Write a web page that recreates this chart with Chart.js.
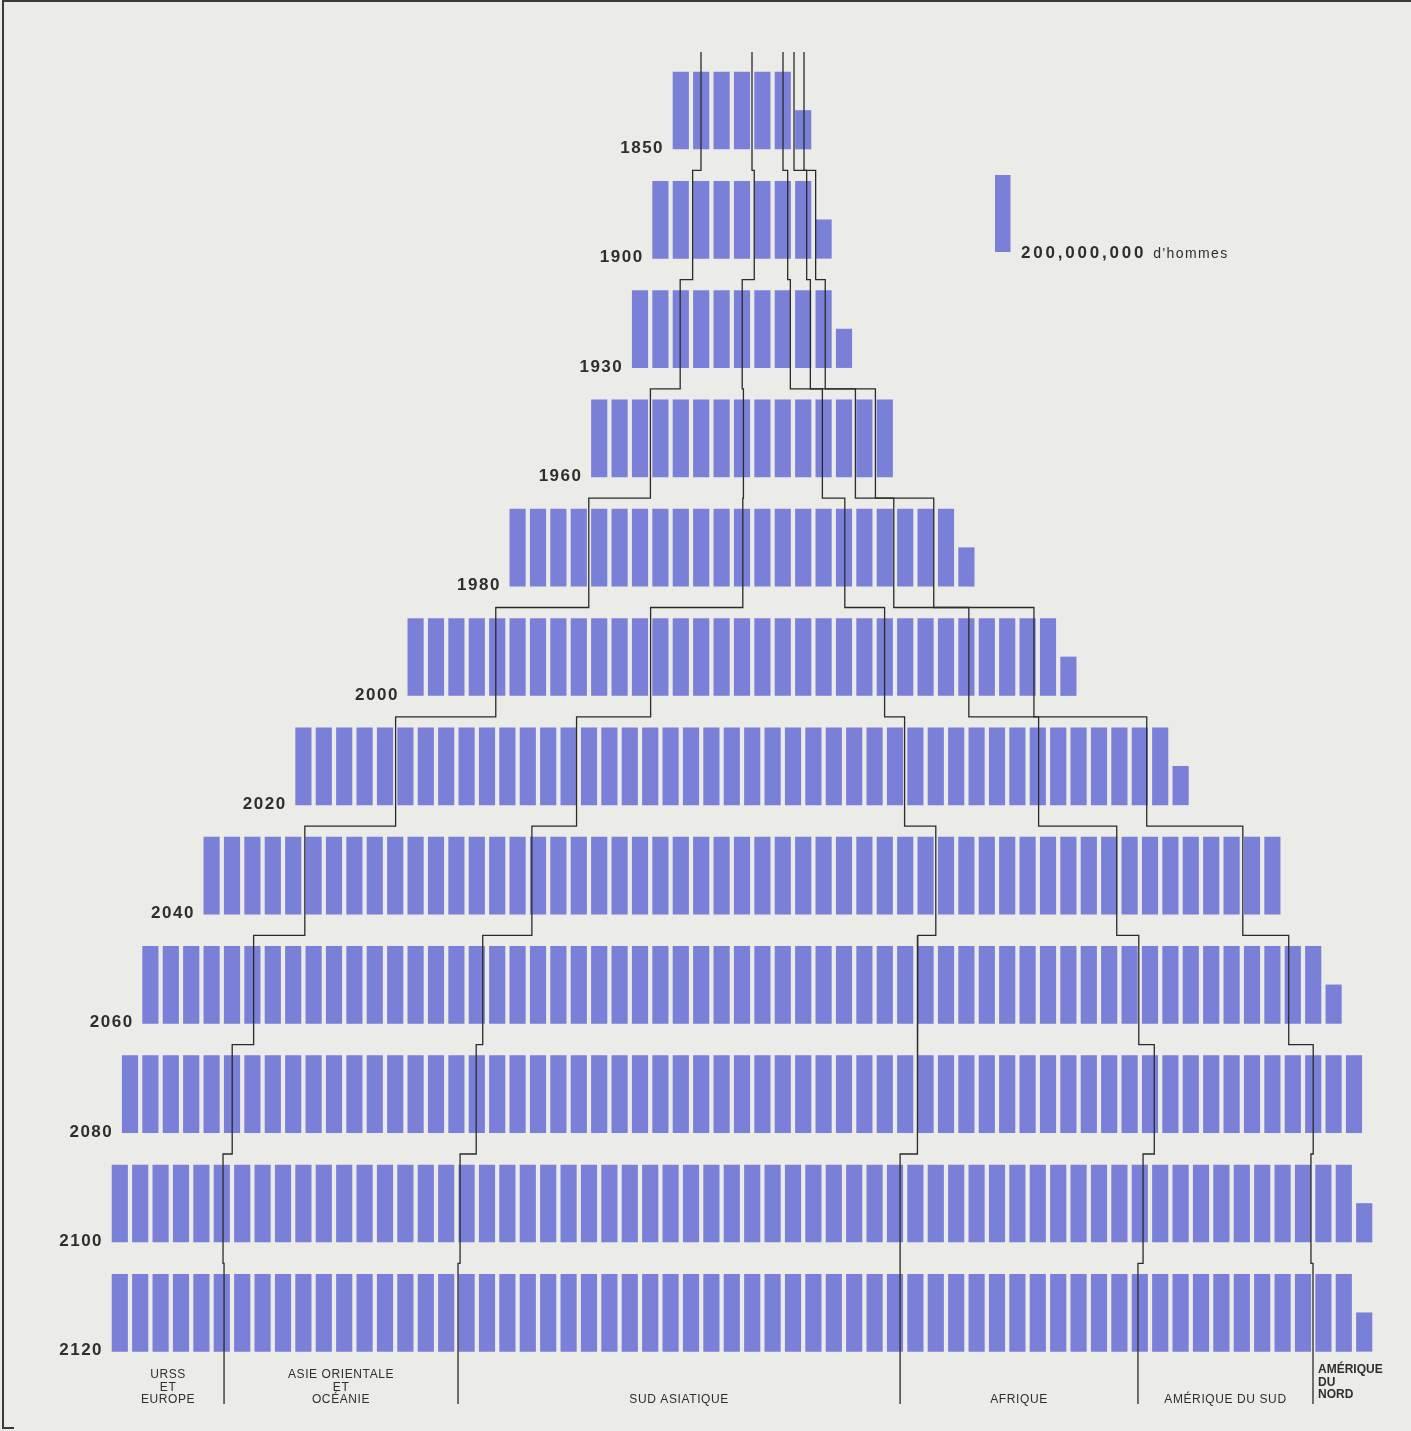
<!DOCTYPE html>
<html>
<head>
<meta charset="utf-8">
<title>Population mondiale</title>
<script src="https://cdn.jsdelivr.net/npm/chart.js@4.4.1/dist/chart.umd.min.js"></script>
<style>
  html, body { margin: 0; padding: 0; background: #ebebe8; }
  #wrap { width: 1411px; height: 1431px; }
</style>
</head>
<body>
<div id="wrap"><canvas id="pyramid" width="1411" height="1431"></canvas></div>
<script>
// one bar = 200 millions d'hommes
var barValue = 200;
var years = [1850, 1900, 1930, 1960, 1980, 2000, 2020, 2040, 2060, 2080, 2100, 2120];

var urssEurope    = [274, 392, 470, 578, 774, 862, 980, 990, 1088, 1078, 1088, 1098];
var asieOrientale = [500, 604, 608, 912, 1510, 1518, 1774, 2226, 2246, 2392, 2324, 2294];
var sudAsiatique  = [304, 328, 472, 774, 1000, 2294, 3216, 3960, 4266, 4324, 4314, 4334];
var afrique       = [108, 186, 196, 324, 480, 826, 1314, 1774, 2166, 2324, 2382, 2332];
var ameriqueSud   = [98, 88, 146, 196, 392, 638, 1060, 1236, 1470, 1558, 1646, 1716];
var ameriqueNord  = [16, 102, 208, 216, 344, 362, 356, 414, 464, 524, 546, 526];

var regionLabels = [
  "URSS\nET\nEUROPE",
  "ASIE ORIENTALE\nET\nOCÉANIE",
  "SUD ASIATIQUE",
  "AFRIQUE",
  "AMÉRIQUE DU SUD",
  "AMÉRIQUE\nDU\nNORD"
];
var legendValue = "200,000,000";
var legendUnit = "d'hommes";

// layout (pixels)
var W = 1411, H = 1431;
var PITCH = 20.4, BAR_W = 15.5;
var ROW_TOP = 72, ROW_STEP = 109.3, BAR_H = 77;
var CENTER_PX = 742, MIN_LEFT_PX = 110;
var JOG = 11 / ROW_STEP;

var BAR_COLOR = "#7a7fd7";
var LINE_COLOR = "#2b2b2b";
var TEXT_COLOR = "#2e2e2e";

var pxPerUnit = PITCH / barValue;
var barUnits = BAR_W / pxPerUnit;
var barH = BAR_H / ROW_STEP;

var series = [urssEurope, asieOrientale, sudAsiatique, afrique, ameriqueSud, ameriqueNord];

// per row: left edge, full bars, partial bar, cumulative boundaries
var rows = years.map(function (year, i) {
  var cum = [];
  var total = 0;
  for (var r = 0; r < series.length; r++) {
    total += series[r][i];
    cum.push(total);
  }
  var full = Math.floor(total / barValue + 1e-9);
  var frac = total / barValue - full;
  var shown = full + (frac > 0.01 ? 1 : 0);
  var extent = shown * barValue - (PITCH - BAR_W) / pxPerUnit;
  var left = Math.max(MIN_LEFT_PX / pxPerUnit, CENTER_PX / pxPerUnit - extent / 2);
  return { year: year, left: left, full: full, frac: frac, cum: cum };
});

var barData = [];
rows.forEach(function (row, i) {
  var top = i, bottom = i + barH;
  for (var k = 0; k < row.full; k++) {
    barData.push({ x: row.left + k * barValue + barUnits / 2, y: [top, bottom] });
  }
  if (row.frac > 0.01) {
    barData.push({
      x: row.left + row.full * barValue + barUnits / 2,
      y: [bottom - barH * row.frac, bottom]
    });
  }
});

var vTop = (52 - ROW_TOP) / ROW_STEP;
var vEnd = (1404 - ROW_TOP) / ROW_STEP;

var lineSets = [];
for (var b = 0; b < series.length - 1; b++) {
  var pts = [];
  var xb = rows.map(function (row) { return row.left + row.cum[b]; });
  pts.push({ x: xb[0], y: vTop });
  for (var i = 0; i < rows.length - 1; i++) {
    var jy = i + 1 - JOG;
    pts.push({ x: xb[i], y: jy });
    pts.push({ x: xb[i + 1], y: jy });
  }
  pts.push({ x: xb[rows.length - 1], y: vEnd });
  lineSets.push({
    type: "line",
    data: pts,
    borderColor: LINE_COLOR,
    borderWidth: 1.3,
    pointRadius: 0,
    fill: false,
    tension: 0,
    order: 1
  });
}

var decorations = {
  id: "decorations",
  beforeDraw: function (chart) {
    var c = chart.ctx;
    c.save();
    c.fillStyle = "#ebebe8";
    c.fillRect(0, 0, W, H);
    c.strokeStyle = "#3a3a3a";
    c.lineWidth = 2;
    c.beginPath();
    c.moveTo(W, 1);
    c.lineTo(3, 1);
    c.lineTo(3, 1428);
    c.lineTo(14, 1428);
    c.stroke();
    c.restore();
  },
  afterDraw: function (chart) {
    var c = chart.ctx;
    var xs = chart.scales.x, ys = chart.scales.y;
    c.save();
    c.fillStyle = TEXT_COLOR;

    // year labels
    c.font = "bold 17px 'Liberation Sans', Arial, sans-serif";
    c.letterSpacing = "1.5px";
    c.textAlign = "right";
    c.textBaseline = "alphabetic";
    rows.forEach(function (row, i) {
      var px = xs.getPixelForValue(row.left);
      var py = ys.getPixelForValue(i + barH);
      c.fillText(String(row.year), px - 9, py + 4);
    });

    // legend
    c.fillStyle = BAR_COLOR;
    c.fillRect(995, 175, BAR_W, BAR_H);
    c.fillStyle = TEXT_COLOR;
    c.textAlign = "left";
    c.font = "bold 17px 'Liberation Sans', Arial, sans-serif";
    c.letterSpacing = "2.8px";
    c.fillText(legendValue, 1021, 258);
    var w = c.measureText(legendValue).width;
    c.font = "14px 'Liberation Sans', Arial, sans-serif";
    c.letterSpacing = "1.4px";
    c.fillText(legendUnit, 1021 + w + 7, 258);

    // region names under the last row
    var last = rows[rows.length - 1];
    var bounds = [last.left].concat(last.cum.slice(0, -1).map(function (v) { return last.left + v; }));
    c.font = "12px 'Liberation Sans', Arial, sans-serif";
    c.letterSpacing = "0.6px";
    regionLabels.forEach(function (label, r) {
      var lines = label.split("\n");
      var x0 = xs.getPixelForValue(bounds[r]);
      var x1 = r + 1 < bounds.length ? xs.getPixelForValue(bounds[r + 1]) : null;
      var baseY = 1403 - (lines.length - 1) * 12.5;
      if (x1 === null) {
        c.textAlign = "left";
        c.font = "bold 12px 'Liberation Sans', Arial, sans-serif";
        c.letterSpacing = "0px";
        lines.forEach(function (t, j) { c.fillText(t, x0 + 5, baseY - 5 + j * 12.5); });
      } else {
        c.textAlign = "center";
        lines.forEach(function (t, j) { c.fillText(t, (x0 + x1) / 2, baseY + j * 12.5); });
      }
    });
    c.restore();
  }
};

var ctx = document.getElementById("pyramid").getContext("2d");
var chart = new Chart(ctx, {
  type: "bar",
  data: {
    datasets: [
      {
        label: "200,000,000 d'hommes",
        data: barData,
        backgroundColor: BAR_COLOR,
        borderWidth: 0,
        barThickness: BAR_W,
        grouped: false,
        order: 2
      }
    ].concat(lineSets)
  },
  options: {
    responsive: false,
    animation: false,
    layout: { padding: 0 },
    plugins: {
      legend: { display: false },
      tooltip: { enabled: false }
    },
    scales: {
      x: { type: "linear", display: false, offset: false, min: 0, max: W / pxPerUnit },
      y: {
        type: "linear",
        display: false,
        reverse: true,
        min: -ROW_TOP / ROW_STEP,
        max: (H - ROW_TOP) / ROW_STEP
      }
    }
  },
  plugins: [decorations]
});
</script>
</body>
</html>
